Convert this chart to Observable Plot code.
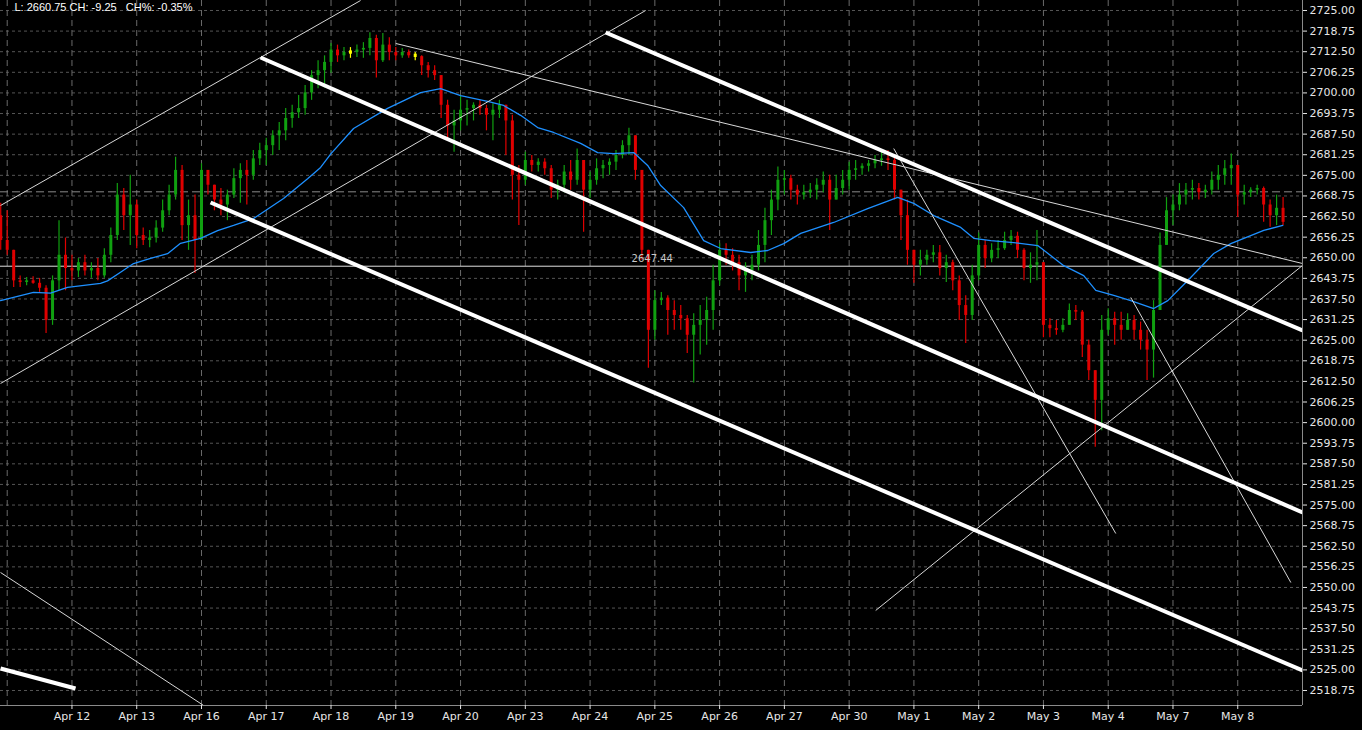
<!DOCTYPE html>
<html><head><meta charset="utf-8">
<script src="https://cdn.jsdelivr.net/npm/d3@7"></script>
<script src="https://cdn.jsdelivr.net/npm/@observablehq/plot@0.6"></script>
<style>
html,body{margin:0;padding:0;background:#000;}
#chart{width:1362px;height:730px;overflow:hidden;}
</style></head><body><div id="chart"></div>
<script>
// trading sessions (first one only partly visible)
const sessions = ["Apr 11","Apr 12","Apr 13","Apr 16","Apr 17","Apr 18","Apr 19","Apr 20","Apr 23","Apr 24","Apr 25","Apr 26","Apr 27","Apr 30","May 1","May 2","May 3","May 4","May 7","May 8"];
const barsPerSession = 10;
const firstBarSession = -0.1;
const firstOpen = 2662.75;
const highs = [2666.5,
 2664.25,2652.25,2644.5,2644.0,2644.25,2643.75,2641.5,2644.5,2661.25,2656.0,
 2650.75,2649.75,2650.75,2648.5,2649.75,2652.75,2659.0,2672.5,2671.0,2675.0,
 2667.5,2659.0,2658.25,2661.25,2667.5,2672.0,2680.5,2678.0,2667.5,2669.0,
 2678.5,2676.0,2672.0,2671.0,2670.5,2677.0,2678.5,2679.5,2682.5,2684.75,
 2686.25,2688.5,2691.0,2695.25,2696.25,2699.25,2702.25,2706.75,2709.75,2711.25,
 2715.0,2714.5,2713.75,2713.75,2714.5,2715.25,2718.25,2717.5,2718.0,2716.75,
 2713.75,2713.5,2713.0,2712.25,2711.25,2709.25,2708.25,2703.75,2697.75,2694.75,
 2699.25,2697.75,2697.0,2697.75,2696.25,2696.75,2697.75,2696.25,2693.25,2678.0,
 2682.0,2681.0,2680.0,2680.0,2678.0,2673.5,2678.0,2679.5,2683.0,2678.0,
 2676.0,2680.0,2679.5,2680.0,2682.5,2685.5,2689.25,2685.5,2676.5,2652.25,
 2640.0,2639.5,2638.5,2637.0,2635.5,2632.5,2633.0,2635.5,2638.0,2647.75,
 2654.25,2654.25,2652.75,2650.75,2648.5,2650.75,2658.25,2665.0,2670.5,2677.5,
 2676.5,2675.0,2672.0,2672.0,2672.5,2674.0,2676.0,2675.0,2675.0,2676.5,
 2679.0,2679.5,2678.5,2679.5,2681.0,2682.0,2682.5,2681.0,2669.0,2667.5,
 2650.75,2652.25,2652.25,2653.75,2653.75,2650.75,2649.25,2644.5,2638.5,2647.75,
 2657.5,2655.25,2654.25,2655.25,2657.75,2658.25,2657.75,2652.75,2651.5,2658.25,
 2647.75,2631.5,2631.0,2631.5,2636.0,2635.5,2634.0,2625.0,2614.25,2632.5,
 2634.5,2633.5,2633.5,2633.0,2632.5,2630.5,2628.0,2637.0,2657.5,2668.25,
 2669.0,2672.5,2672.5,2673.5,2672.5,2672.0,2676.0,2678.0,2679.5,2681.5,
 2678.0,2672.0,2671.25,2672.0,2671.5,2667.5,2669.0,2668.25];
const lows = [2652.25,
 2650.75,2641.0,2641.0,2641.5,2642.0,2639.5,2627.0,2629.5,2640.0,2640.0,
 2643.0,2644.0,2644.5,2643.75,2643.0,2643.75,2648.5,2655.25,2658.25,2653.75,
 2652.75,2653.75,2653.0,2654.5,2657.75,2662.75,2667.5,2655.25,2652.25,2645.25,
 2656.75,2669.0,2664.25,2662.75,2661.25,2668.0,2666.5,2666.0,2673.5,2678.0,
 2678.0,2681.0,2682.5,2685.5,2689.25,2692.25,2693.25,2697.75,2701.25,2701.5,
 2706.0,2709.25,2709.75,2710.5,2710.75,2710.5,2711.25,2704.5,2709.25,2709.75,
 2709.75,2710.5,2710.5,2709.75,2705.25,2704.5,2703.75,2692.25,2686.25,2682.0,
 2688.5,2690.0,2691.5,2693.25,2688.5,2685.5,2692.25,2681.0,2667.5,2659.75,
 2672.0,2676.0,2676.0,2675.0,2668.0,2667.5,2669.75,2670.5,2672.0,2657.75,
 2668.0,2672.0,2674.0,2675.0,2676.5,2680.0,2681.0,2673.5,2649.25,2616.5,
 2625.0,2635.5,2626.5,2628.0,2628.0,2621.0,2612.0,2620.5,2623.5,2628.0,
 2641.5,2647.75,2646.0,2640.0,2639.5,2643.0,2646.0,2648.5,2656.75,2664.25,
 2669.0,2667.5,2666.0,2667.5,2668.0,2667.5,2669.75,2658.25,2667.5,2669.0,
 2670.5,2673.5,2675.0,2676.0,2677.0,2677.75,2676.5,2667.5,2655.25,2647.75,
 2642.25,2644.5,2647.75,2648.5,2644.5,2642.5,2640.0,2631.0,2624.0,2631.0,
 2643.0,2646.75,2648.5,2649.75,2652.25,2653.75,2649.75,2643.0,2642.25,2643.0,
 2625.75,2625.75,2626.5,2627.25,2629.5,2631.0,2619.75,2612.75,2592.5,2597.5,
 2626.5,2623.5,2625.0,2628.0,2625.0,2622.0,2612.75,2613.5,2634.0,2653.75,
 2659.75,2664.25,2666.0,2667.5,2667.5,2668.0,2669.0,2670.5,2672.0,2672.0,
 2662.25,2666.0,2668.25,2669.0,2660.75,2659.25,2659.75,2659.75];
const closes = [2655.25,
 2652.25,2643.0,2642.5,2643.0,2642.25,2640.75,2631.0,2643.0,2650.75,2646.75,
 2646.0,2648.5,2646.0,2646.75,2644.5,2650.75,2656.75,2669.0,2662.75,2666.0,
 2656.75,2655.25,2656.0,2659.0,2664.25,2669.0,2676.5,2659.75,2662.75,2655.25,
 2676.5,2672.0,2667.5,2666.0,2669.0,2674.0,2676.5,2675.0,2680.0,2682.5,
 2684.0,2687.0,2688.5,2692.25,2694.0,2695.25,2700.0,2705.25,2706.75,2709.25,
 2713.0,2711.25,2712.25,2712.25,2713.0,2713.5,2716.5,2709.75,2714.5,2712.25,
 2711.25,2712.25,2711.25,2711.0,2708.25,2706.75,2705.25,2696.25,2690.0,2691.5,
 2694.75,2695.25,2696.25,2695.25,2693.25,2694.75,2696.25,2691.5,2675.0,2673.5,
 2679.5,2678.0,2679.0,2677.0,2670.5,2672.0,2676.0,2673.5,2679.5,2670.5,
 2673.5,2677.0,2678.0,2679.0,2681.0,2684.0,2687.0,2676.5,2652.25,2628.0,
 2637.0,2637.75,2634.0,2632.5,2631.5,2626.5,2629.5,2631.0,2634.0,2643.0,
 2652.25,2650.75,2648.5,2644.5,2646.0,2647.75,2653.75,2661.25,2667.5,2673.5,
 2674.0,2670.5,2669.0,2669.75,2670.5,2672.0,2673.5,2667.5,2671.0,2673.5,
 2676.5,2677.0,2677.75,2678.5,2679.5,2680.0,2679.5,2670.5,2662.75,2652.25,
 2647.75,2649.25,2650.75,2651.5,2646.75,2648.5,2643.0,2635.5,2632.5,2644.5,
 2653.75,2649.75,2652.25,2652.75,2655.25,2656.5,2652.25,2646.75,2647.75,2648.5,
 2629.5,2628.5,2628.0,2629.5,2634.0,2633.5,2623.5,2615.75,2606.75,2628.0,
 2631.5,2629.5,2628.0,2631.0,2628.0,2625.0,2622.0,2634.0,2653.75,2664.25,
 2666.0,2669.0,2670.5,2671.0,2669.75,2670.5,2673.5,2675.0,2677.0,2678.0,
 2669.0,2669.75,2670.5,2671.0,2666.0,2662.75,2665.0,2660.75];
const prevClose = 2670.00;
const refLevel = 2647.44;
const refLabelSession = 9.96;

// moving average (session position, price)
const maT = [-0.103,0.406,0.669,0.931,1.441,1.549,1.750,1.951,2.213,2.476,2.676,2.985,3.248,3.495,3.804,4.267,4.638,4.839,5.0,5.348,5.873,6.383,6.692,7.001,7.418,7.665,7.927,8.190,8.437,8.854,9.117,9.364,9.673,9.889,10.090,10.445,10.754,11.016,11.480,11.742,11.989,12.252,12.761,13.286,13.750,13.997,14.306,14.723,14.924,15.186,15.541,15.912,16.314,16.622,16.808,17.086,17.348,17.703,17.920,18.229,18.630,18.893,19.402,19.696];
const maV = [2637.0,2639.5,2639.25,2641.0,2642.25,2643.0,2645.6,2648.25,2649.8,2651.25,2654.4,2655.9,2658.25,2659.8,2661.9,2668.0,2674.0,2677.4,2681.6,2689.2,2695.3,2700.1,2701.3,2699.2,2697.4,2696.2,2693.2,2689.5,2688.0,2684.7,2681.9,2681.6,2681.9,2678.0,2671.9,2665.2,2655.2,2652.8,2651.6,2652.2,2654.3,2657.4,2660.7,2664.9,2668.3,2666.5,2662.8,2659.2,2655.9,2655.2,2654.6,2653.7,2647.6,2644.6,2640.1,2638.6,2637.0,2634.6,2637.0,2643.1,2651.3,2654.3,2658.3,2659.8];

// drawn trend lines: [session1, price1, session2, price2]
const thickT1 = [3.912, 9.240, 3.140, -0.103];
const thickP1 = [2710.74, 2718.32, 2666.76, 2525.43];
const thickT2 = [20.0, 20.0, 20.0, 1.055];
const thickP2 = [2572.74, 2627.94, 2524.82, 2519.36];
const thinT1 = [-0.103, -0.103, 6.0, 13.688, 17.349, 13.410, -0.103];
const thinP1 = [2665.85, 2611.87, 2714.99, 2683.14, 2637.95, 2543.02, 2554.54];
const thinT2 = [5.456, 9.858, 20.0, 17.117, 19.820, 20.0, 3.032];
const thinP2 = [2728.03, 2725.0, 2648.26, 2566.37, 2551.5, 2647.66, 2514.21];

const yTicks = [2518.75,2525.00,2531.25,2537.50,2543.75,2550.00,2556.25,2562.50,2568.75,2575.00,2581.25,2587.50,2593.75,2600.00,2606.25,2612.50,2618.75,2625.00,2631.25,2637.50,2643.75,2650.00,2656.25,2662.50,2668.75,2675.00,2681.25,2687.50,2693.75,2700.00,2706.25,2712.50,2718.75,2725.00];
const yDomain = [2514.2, 2728.03];
const xDomain = [-0.1035, 20.0];

// ---- build tables ----
const bars = closes.map((c, i) => {
  const o = i ? closes[i - 1] : firstOpen;
  const diff = c - o;
  const col = diff > 0.25 ? "#10a010" : diff < -0.25 ? "#e00000" : "#ffff00";
  return {
    t: firstBarSession + i / barsPerSession,
    o, c,
    h: Math.max(highs[i], o, c),
    l: Math.min(lows[i], o, c),
    b1: Math.abs(diff) < 0.5 ? o + 0.5 : o,
    b2: Math.abs(diff) < 0.5 ? o - 0.5 : c,
    col
  };
});
const ma = maT.map((t, i) => ({t, v: maV[i]}));
const thick = thickT1.map((t, i) => ({t1: t, p1: thickP1[i], t2: thickT2[i], p2: thickP2[i]}));
const thin = thinT1.map((t, i) => ({t1: t, p1: thinP1[i], t2: thinT2[i], p2: thinP2[i]}));
const sessionIdx = sessions.map((_, i) => i);
const last = closes[closes.length - 1];
const ch = last - prevClose;
const header = `L: ${last.toFixed(2)} CH: ${ch.toFixed(2)}\u00a0\u00a0\u00a0CH%: ${(ch / prevClose * 100).toFixed(2)}%`;

const chart = Plot.plot({
  width: 1362, height: 730,
  marginLeft: 0, marginRight: 60, marginTop: 0, marginBottom: 25,
  style: {background: "#000", color: "#ddd", fontFamily: "DejaVu Sans", fontSize: "11px"},
  x: {type: "linear", domain: xDomain},
  y: {domain: yDomain},
  marks: [
    Plot.gridY(yTicks, {stroke: "#555", strokeOpacity: 1, strokeDasharray: "3,3"}),
    Plot.gridX(sessionIdx, {stroke: "#6a6a6a", strokeOpacity: 1, strokeDasharray: "6,4"}),
    Plot.ruleY([prevClose], {stroke: "#8a8a8a", strokeDasharray: "8,4"}),
    Plot.ruleY([refLevel], {stroke: "#e0e0e0", strokeWidth: 1}),
    Plot.ruleX(bars, {x: "t", y1: "l", y2: "h", stroke: "col", strokeWidth: 1.2}),
    Plot.ruleX(bars, {x: "t", y1: "b1", y2: "b2", stroke: "col", strokeWidth: 3}),
    Plot.line(ma, {x: "t", y: "v", stroke: "#1e90ff", strokeWidth: 1.3}),
    Plot.link(thin, {x1: "t1", y1: "p1", x2: "t2", y2: "p2", stroke: "#d8d8d8", strokeWidth: 1, clip: true}),
    Plot.link(thick, {x1: "t1", y1: "p1", x2: "t2", y2: "p2", stroke: "#ffffff", strokeWidth: 4, clip: true}),
    Plot.text([refLevel], {x: () => refLabelSession, y: d => d, text: d => d.toFixed(2), dy: -7, fill: "#c8c8c8", fontSize: 10}),
    Plot.ruleX([xDomain[1]], {stroke: "#8a8a8a"}),
    Plot.ruleY([yDomain[0]], {stroke: "#8a8a8a"}),
    Plot.axisY(yTicks, {anchor: "right", tickSize: 4, tickPadding: 3, tickFormat: d3.format(".2f"), color: "#e6e6e6", textAnchor: "start"}),
    Plot.axisX(sessionIdx.slice(1), {anchor: "bottom", tickSize: 4, tickPadding: 3, tickFormat: i => sessions[i], color: "#e6e6e6"}),
    Plot.text([header], {frameAnchor: "top-left", dx: 14, dy: 3, fill: "#ffffff", fontSize: 11, fontFamily: "Liberation Sans", textAnchor: "start", lineAnchor: "top"})
  ]
});
document.getElementById("chart").append(chart);
</script></body></html>
